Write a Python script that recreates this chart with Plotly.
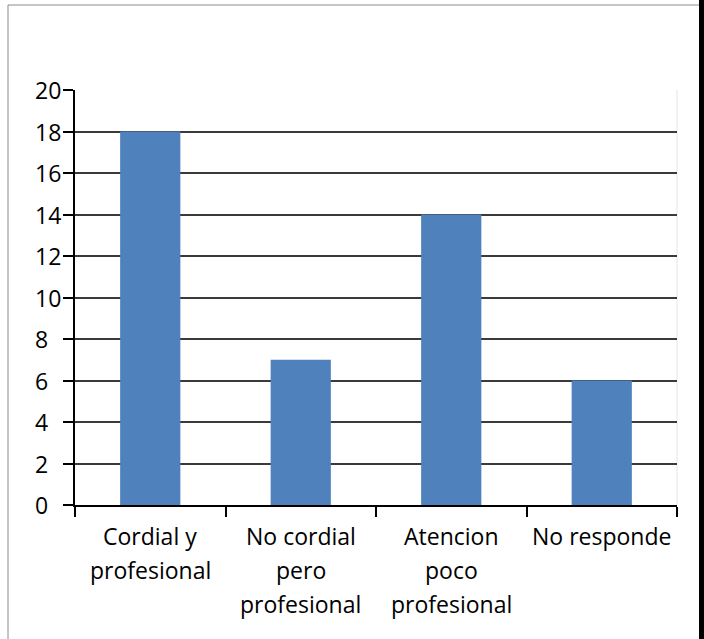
import plotly.graph_objects as go

categories = ["Cordial y profesional", "No cordial pero profesional", "Atencion poco profesional", "No responde"]
label_lines = [["Cordial y", "profesional"], ["No cordial", "pero", "profesional"], ["Atencion", "poco", "profesional"], ["No responde"]]
values = [18, 7, 14, 6]
y_ticks = [0, 2, 4, 6, 8, 10, 12, 14, 16, 18, 20]

FONT = "Open Sans"
FS = 23

fig = go.Figure(go.Bar(x=categories, y=values, marker=dict(color="#4F81BD", line=dict(width=0)), width=0.4))

annotations = []
for cat, lines in zip(categories, label_lines):
    for i, line in enumerate(lines):
        annotations.append(dict(x=cat, xref="x", y=0, yref="paper", text=line, showarrow=False,
                                yanchor="middle", xanchor="center", yshift=-(31 + i * 34),
                                font=dict(family=FONT, size=FS, color="#000")))
for v in y_ticks:
    annotations.append(dict(x=0, xref="paper", y=v, yref="y", text=str(v), showarrow=False,
                            xanchor="left", yanchor="middle", xshift=-42,
                            font=dict(family=FONT, size=FS, color="#000")))

W, H = 699, 639
L, R, T, B = 75, 22, 90, 134
pw, ph = W - L - R, H - T - B
def px(x): return (x - L) / pw
def py(y): return (H - B - y) / ph

shapes = [
    dict(type="rect", xref="paper", yref="paper", x0=px(8), x1=px(704), y0=py(700), y1=py(5),
         line=dict(color="#8c8c8c", width=1), layer="below"),
    dict(type="line", xref="paper", yref="paper", x0=1, x1=1, y0=0, y1=1,
         line=dict(color="#e4e4e4", width=1), layer="below"),
]

fig.update_layout(
    width=W, height=H, margin=dict(l=L, r=R, t=T, b=B, pad=0),
    paper_bgcolor="white", plot_bgcolor="white", showlegend=False,
    annotations=annotations, shapes=shapes,
    xaxis=dict(range=[-0.5, 3.5], showticklabels=False, ticks="outside", tickson="boundaries",
               ticklen=10, tickcolor="#000", tickwidth=1.5, showgrid=False,
               showline=True, linecolor="#000", linewidth=1.5, fixedrange=True),
    yaxis=dict(range=[0, 20], tickvals=y_ticks, showticklabels=False, ticks="outside", ticklen=10,
               tickcolor="#000", tickwidth=1.5, showgrid=True, gridcolor="#3a3a3a", gridwidth=1.5,
               showline=True, linecolor="#000", linewidth=1.5, zeroline=False, fixedrange=True),
)

fig.write_html("out.html", config={"displayModeBar": False},
               post_script="document.body.style.margin='0';document.body.style.overflow='hidden';"
                           "document.body.style.background='#000';document.documentElement.style.background='#000';")
